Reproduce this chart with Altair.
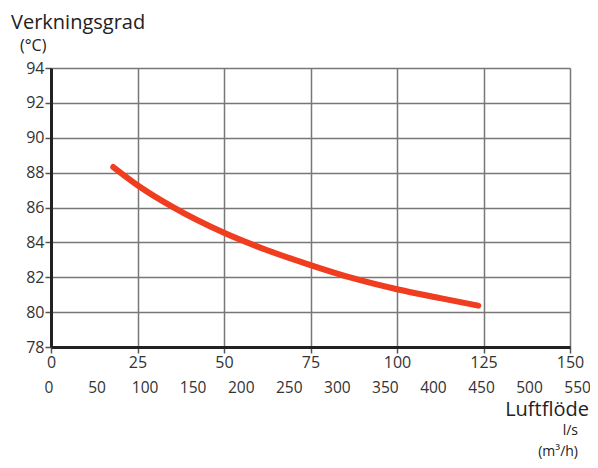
import altair as alt
import pandas as pd

flow_ls = [18, 25, 35, 50, 62.5, 75, 87.5, 100, 112.5, 123.5]
efficiency = [88.32, 87.28, 86.05, 84.55, 83.55, 82.70, 81.93, 81.31, 80.80, 80.37]

x_ticks = [0, 25, 50, 75, 100, 125, 150]
y_ticks = [78, 80, 82, 84, 86, 88, 90, 92, 94]
m3h_ticks = [0, 50, 100, 150, 200, 250, 300, 350, 400, 450, 500, 550]

FONT = "Open Sans"

df = pd.DataFrame({"flow": flow_ls, "eff": efficiency})
m3 = pd.DataFrame({"m3h": m3h_ticks, "label": [str(v) for v in m3h_ticks]})
m3["ls"] = m3["m3h"] / 3.6

xscale = alt.Scale(domain=[0, 150], nice=False, zero=False)
yscale = alt.Scale(domain=[78, 94], nice=False, zero=False)

axis_common = dict(title=None, grid=True, tickSize=6, labelFontSize=16, labelPadding=1,
                   labelColor="#333", domainWidth=3, domainColor="#222", tickColor="#555",
                   tickWidth=1.5, gridColor="#777", gridWidth=1.5, labelFont=FONT,
                   labelFlush=False)

line = alt.Chart(df).mark_line(
    color="#f03c1f", strokeWidth=6, strokeCap="round", interpolate="monotone"
).encode(
    x=alt.X("flow:Q", scale=xscale, axis=alt.Axis(values=x_ticks, **axis_common)),
    y=alt.Y("eff:Q", scale=yscale, axis=alt.Axis(values=y_ticks, **axis_common)),
)

m3labels = alt.Chart(m3).mark_text(
    fontSize=15.5, font=FONT, color="#333", baseline="middle", align="center", dx=-2
).encode(
    x=alt.X("ls:Q", scale=xscale),
    y=alt.value(320),
    text="label:N",
)

titles = pd.DataFrame({
    "t": ["Verkningsgrad", "(°C)", "Luftflöde", "l/s", "(m³/h)"],
    "px": [-40, -31, 538, 527, 527],
    "py": [-45, -22, 342, 363, 384],
    "size": [20, 16, 20, 14, 14],
    "align": ["left", "left", "right", "right", "right"],
})

def title_mark(i):
    r = titles.iloc[i]
    return alt.Chart(titles.iloc[[i]]).mark_text(
        fontSize=int(r["size"]), font=FONT, color="#222", align=r["align"],
        baseline="middle"
    ).encode(x=alt.value(float(r["px"])), y=alt.value(float(r["py"])), text="t:N")

chart = alt.layer(line, m3labels, *[title_mark(i) for i in range(len(titles))]).properties(
    width=519, height=279,
    autosize=alt.AutoSizeParams(type="none"),
    padding={"left": 43, "top": 60, "right": 20, "bottom": 113},
).configure_view(
    fill="#e0e0e0", stroke="#444", strokeWidth=2
).configure(background="white")

chart.save("out.html", embed_options={"renderer": "svg", "actions": False})
